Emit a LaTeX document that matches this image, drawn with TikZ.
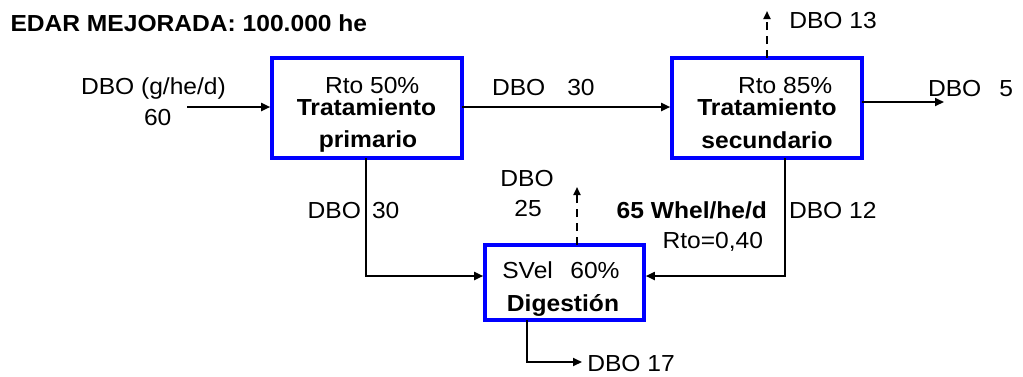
\documentclass[tikz,border=0pt]{standalone}
\usepackage{fontspec}
\setmainfont{Liberation Sans}[FakeStretch=1.06]
\usetikzlibrary{arrows.meta}
\begin{document}
\begin{tikzpicture}[x=1pt,y=-1pt,
  every node/.style={inner sep=0pt, outer sep=0pt, font=\fontsize{23.2}{27}\selectfont},
  box/.style={draw={rgb,255:red,0;green,0;blue,255}, line width=3.6pt, rectangle},
  lw/.style={anchor=base west},
  lc/.style={anchor=base},
  le/.style={anchor=base east},
  bf/.style={font=\fontsize{23.2}{27}\selectfont\bfseries},
  arr/.style={line width=1.8pt, -{Triangle[length=9pt,width=8pt]}, shorten >=1.8pt},
  darr/.style={line width=1.9pt, dash pattern=on 8pt off 6pt, -{Triangle[length=8pt,width=7pt]}}]
\useasboundingbox (0,0) rectangle (1023,376);

% boxes
\node[box, minimum width=190pt, minimum height=100pt] (b1) at (367,108) {};
\node[box, minimum width=190pt, minimum height=100pt] (b2) at (767,108) {};
\node[box, minimum width=159pt, minimum height=75pt] (b3) at (564.5,282.5) {};

% texts
\node[lw, bf] (title) at (10.5,31) {EDAR MEJORADA: 100.000 he};
\node[lw] (tin) at (81,94.5) {DBO (g/he/d)};
\node[lw] (t60) at (144,125) {60};

\node[lw] (r1) at (325,93) {Rto 50\%};
\node[lc, bf] (n1a) at (366.5,115) {Tratamiento};
\node[lc, bf] (n1b) at (368,147) {primario};

\node[lw] (t30) at (492,95) {DBO\hspace{22pt}30};

\node[lw] (r2) at (738,93) {Rto 85\%};
\node[lc, bf] (n2a) at (767,115) {Tratamiento};
\node[lc, bf] (n2b) at (767,148) {secundario};

\node[lw] (t13) at (789.3,28.3) {DBO 13};
\node[lw] (t5) at (928,96) {DBO\hspace{18pt}5};

\node[le] (tdl) at (361,218) {DBO};
\node[lw] (tdr) at (372,218) {30};
\node[lc] (t25a) at (527,186.7) {DBO};
\node[lc] (t25b) at (528,216.7) {25};
\node[le, bf] (tw) at (767,218) {65 Whel/he/d};
\node[le] (trto) at (763,248) {Rto=0,40};
\node[lw] (t12) at (789,218) {DBO 12};

\node[lw] (sv) at (502.3,278.3) {SVel\hspace{17.5pt}60\%};
\node[lc, bf] (dig) at (563,311.7) {Digestión};
\node[lw] (t17) at (587.3,371.7) {DBO 17};

% connector coordinates
\coordinate (in) at (187,107);
\coordinate (out) at (944,102);
\coordinate (up2) at (767,11);
\coordinate (c1) at (366,276);
\coordinate (c2) at (785,276);
\coordinate (up3) at (577,187);
\coordinate (c3) at (527,362);
\coordinate (e3) at (582,362);

% connectors
\draw[arr] (in) -- (in -| b1.west);
\draw[arr] (b1.east |- in) -- (b2.west |- in);
\draw[arr, shorten >=0pt] (b2.east |- out) -- (out);
\draw[darr] (b2.north) -- (up2);
\draw[arr] (b1.south -| c1) -- (c1) -- (c1 -| b3.west);
\draw[arr] (b2.south -| c2) -- (c2) -- (c2 -| b3.east);
\draw[darr] (b3.north -| up3) -- (up3);
\draw[arr, shorten >=0pt] (b3.south -| c3) -- (c3) -- (e3);
\end{tikzpicture}
\end{document}
